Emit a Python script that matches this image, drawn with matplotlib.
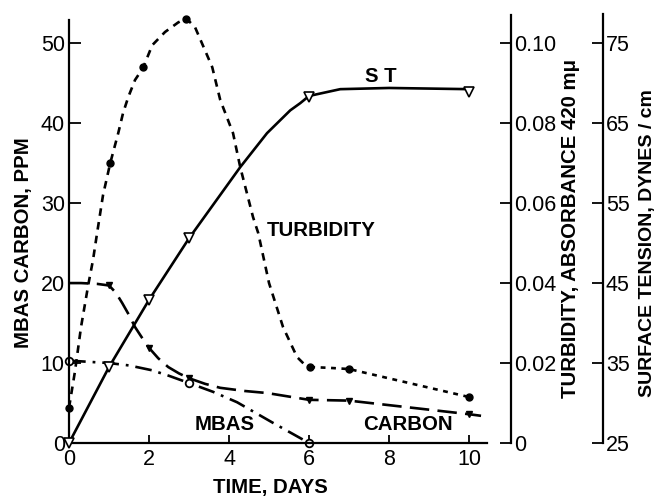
import matplotlib
matplotlib.use("Agg")
import matplotlib.pyplot as plt

plt.rcParams['font.family'] = ['Liberation Sans', 'DejaVu Sans']
plt.rcParams['lines.scale_dashes'] = False

# sample points (markers), days
turb_days = [0, 1.03, 1.85, 2.93, 6.03, 7, 10]
turb_abs = [0.0088, 0.070, 0.094, 0.106, 0.019, 0.0185, 0.0115]
# turbidity curve
turb_line_days = [0, 0.15, 0.3, 0.48, 0.6, 0.7, 0.85, 1.03, 1.23, 1.35, 1.48, 1.65,
                  1.85, 2.08, 2.4, 2.73, 2.93, 3.15, 3.4, 3.58, 3.78, 4.1, 4.28, 4.6,
                  4.73, 5.0, 5.35, 5.7, 5.87, 6.03]
turb_line_abs = [0.0088, 0.018, 0.029, 0.0395, 0.0458, 0.0524, 0.062, 0.070, 0.0775,
                 0.0825, 0.0865, 0.0908, 0.0938, 0.0995, 0.1028, 0.1052, 0.1062, 0.104,
                 0.0982, 0.094, 0.0858, 0.0775, 0.069, 0.0565, 0.0525, 0.040, 0.029,
                 0.0215, 0.0198, 0.019]
turb_tail_days = [6.03, 6.5, 7, 10]
turb_tail_abs = [0.019, 0.0188, 0.0185, 0.0115]

st_days = [0, 1, 2, 3, 6, 10]
st_dynes = [25, 34.5, 42.9, 50.6, 68.3, 68.9]
st_line_days = [0, 1, 2, 3, 4.28, 4.95, 5.53, 5.78, 6, 6.78, 8, 10]
st_line_dynes = [25, 34.5, 42.9, 50.6, 59.5, 63.75, 66.6, 67.5, 68.4, 69.25, 69.4, 69.25]

mbas_days = [0, 3, 6]
mbas_ppm = [10.3, 7.5, 0]
mbas_line_days = [0, 1.0, 1.5, 2.07, 2.5, 3, 3.6, 4.2, 5.07, 6]
mbas_line_ppm = [10.3, 10.0, 9.7, 9.1, 8.4, 7.5, 6.4, 5.1, 2.6, 0]

carbon_days = [1, 2, 3, 6, 7, 10]
carbon_ppm = [19.7, 11.9, 8.1, 5.4, 5.3, 3.6]
carbon_line_days = [0, 0.3, 0.7, 1.0, 1.17, 1.33, 1.5, 1.65, 1.82, 2.0, 2.23, 2.48,
                    2.75, 3, 3.4, 3.78, 4.4, 4.95, 6, 7, 10, 10.3]
carbon_line_ppm = [20, 20, 19.9, 19.7, 18.8, 17.5, 16.0, 14.5, 13.2, 11.9, 10.6, 9.5,
                   8.7, 8.1, 7.4, 6.9, 6.5, 6.25, 5.4, 5.3, 3.6, 3.4]

x_ticks = [0, 2, 4, 6, 8, 10]
ppm_ticks = [0, 10, 20, 30, 40, 50]
turb_ticks = [0, 0.02, 0.04, 0.06, 0.08, 0.10]
turb_labels = ['0', '0.02', '0.04', '0.06', '0.08', '0.10']
st_ticks = [25, 35, 45, 55, 65, 75]

fig = plt.figure(figsize=(6.58, 5.0), dpi=100)
ax = fig.add_axes([0.1049, 0.114, 0.6353, 0.846])
ax_t = ax.twinx()
ax_s = ax.twinx()

lw = 1.9
# carbon, long dashes
ax.plot(carbon_line_days, carbon_line_ppm, color='black', lw=lw, dashes=(14, 6), clip_on=False)
ax.plot(carbon_days, carbon_ppm, 'v', color='black', ms=4.5, clip_on=False)
# MBAS, dash-dot
ax.plot(mbas_line_days, mbas_line_ppm, color='black', lw=lw, dashes=(12, 5, 2, 5), clip_on=False)
ax.plot(mbas_days, mbas_ppm, 'o', mfc='white', mec='black', mew=1.3, ms=5.5, clip_on=False)

# turbidity
ax_t.plot(turb_line_days, turb_line_abs, color='black', lw=lw, dashes=(5.5, 4.5), clip_on=False)
ax_t.plot(turb_tail_days, turb_tail_abs, color='black', lw=lw, dashes=(3.5, 4), clip_on=False)
ax_t.plot(turb_days, turb_abs, 'o', color='black', ms=5, clip_on=False)

# surface tension
ax_s.plot(st_line_days, st_line_dynes, color='black', lw=lw, clip_on=False)
ax_s.plot(st_days, st_dynes, 'v', mfc='white', mec='black', mew=1.2, ms=7, clip_on=False)

ax.set_xlim(0, 10.45)
ax.set_ylim(0, 52.9)
ax_t.set_ylim(0, 0.1058)
ax_s.set_ylim(25, 77.9)

for a in (ax, ax_t, ax_s):
    a.spines['top'].set_visible(False)
ax.spines['right'].set_visible(False)
ax_t.spines['left'].set_visible(False)
ax_s.spines['left'].set_visible(False)
ax_t.spines['bottom'].set_visible(False)
ax_s.spines['bottom'].set_visible(False)
for sp in ('left', 'bottom'):
    ax.spines[sp].set_linewidth(1.6)
ax_t.spines['right'].set_position(('axes', 1.0574))
ax_s.spines['right'].set_position(('axes', 1.2775))
ax_t.spines['right'].set_linewidth(1.6)
ax_s.spines['right'].set_linewidth(1.6)
ax_t.spines['right'].set_bounds(0, 0.107)
ax_s.spines['right'].set_bounds(25, 78.6)

ax.set_xticks(x_ticks)
ax.set_yticks(ppm_ticks)
ax.tick_params(axis='x', direction='in', length=6, width=1.3, labelsize=15.5, pad=4)
ax.tick_params(axis='y', direction='in', length=8.5, width=1.3, labelsize=15.5, pad=3)
ax_t.set_yticks(turb_ticks)
ax_t.set_yticklabels(turb_labels)
ax_t.tick_params(axis='y', direction='in', length=8, width=1.3, labelsize=15.5, pad=2)
ax_s.set_yticks(st_ticks)
ax_s.tick_params(axis='y', direction='in', length=8, width=1.3, labelsize=15.5, pad=2)

lab = dict(fontsize=14.7, fontweight='bold')
# axis titles placed in axes coordinates
ax.text(0.481, -0.106, 'TIME, DAYS', transform=ax.transAxes, ha='center', va='center', **lab)
ax.text(-0.110, 0.473, 'MBAS CARBON, PPM', transform=ax.transAxes, rotation=90,
        ha='center', va='center', **lab)
ax.text(1.199, 0.506, 'TURBIDITY, ABSORBANCE 420 mμ', transform=ax.transAxes, rotation=90,
        ha='center', va='center', **lab)
ax.text(1.383, 0.473, 'SURFACE TENSION, DYNES / cm', transform=ax.transAxes, rotation=90,
        ha='center', va='center', fontsize=14, fontweight='bold')

ax.text(7.8, 45.8, 'S T', ha='center', va='center', **lab)
ax.text(4.95, 26.6, 'TURBIDITY', ha='left', va='center', **lab)
ax.text(3.9, 2.3, 'MBAS', ha='center', va='center', **lab)
ax.text(8.48, 2.3, 'CARBON', ha='center', va='center', **lab)

fig.savefig('out.png', dpi=100)
